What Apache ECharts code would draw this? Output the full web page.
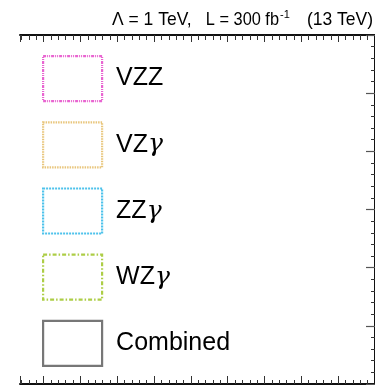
<!DOCTYPE html>
<html><head><meta charset="utf-8">
<script src="https://cdn.jsdelivr.net/npm/echarts@6/dist/echarts.min.js"></script>
<style>html,body{margin:0;padding:0;background:#fff}#c{width:375px;height:385px}</style>
</head><body><div id="c"></div>
<script>
// Legend entries (the plot shows only the legend frame)
const channels = ['VZZ', 'VZγ', 'ZZγ', 'WZγ', 'Combined'];
const channelColors = ['#e43fc6', '#e2b65a', '#22b3e6', '#98c118', '#555555'];
const channelDash = [[3, 1, 1, 1, 1, 1], [1.5, 1], [2, 1], [4, 2, 1.5, 2], 'solid'];
// Header text pieces
const titleParts = ['Λ = 1 TeV,', 'L = 300 fb', '-1', '(13 TeV)'];
// Axis ranges (no labels shown)
const xRange = [0, 9.64];
const yRange = [0, 6];

const chart = echarts.init(document.getElementById('c'), null, {renderer: 'canvas'});
const frameLine = {show: true, lineStyle: {color: '#111', width: 2}};
function xAx(grid, pos, majorLen, minorLen, show) {
  return {
    type: 'value', gridIndex: grid, position: pos, inverse: true,
    min: xRange[0], max: xRange[1], interval: 1, show: show,
    axisLine: frameLine,
    axisTick: {show: true, inside: true, length: majorLen, lineStyle: {color: '#333', width: 1}},
    minorTick: {show: true, splitNumber: 5, length: minorLen, lineStyle: {color: '#333', width: 1}},
    axisLabel: {show: false}, splitLine: {show: false}, minorSplitLine: {show: false}
  };
}
function yAx(grid, pos, majorLen, minorLen) {
  return {
    type: 'value', gridIndex: grid, position: pos,
    min: yRange[0], max: yRange[1], interval: 1,
    axisLine: frameLine,
    axisTick: {show: true, inside: true, length: majorLen, lineStyle: {color: '#555', width: 1.2}},
    minorTick: {show: true, splitNumber: 5, length: minorLen, lineStyle: {color: '#333', width: 1}},
    axisLabel: {show: false}, splitLine: {show: false}, minorSplitLine: {show: false}
  };
}
const titleFont = {fill: '#000', fontSize: 19, fontFamily: 'Liberation Sans', verticalAlign: 'middle'};

const option = {
  animation: false,
  backgroundColor: '#fff',
  grid: [
    {left: 20, right: -34.4, top: 35, bottom: 1},
    {left: 20, right: -2, top: 35, bottom: 1}
  ],
  xAxis: [
    xAx(0, 'bottom', 8, 4, true),
    xAx(0, 'top', 7, 5, true),
    xAx(1, 'bottom', 0, 0, false)
  ],
  yAxis: [
    yAx(0, 'left', 8, 5),
    yAx(1, 'right', 9, 4)
  ],
  legend: {
    orient: 'vertical', left: 42, top: 55, padding: 0,
    itemWidth: 59, itemHeight: 45, itemGap: 19, icon: 'rect',
    selectedMode: false,
    data: channels.map((n, i) => ({
      name: n,
      itemStyle: {
        color: 'rgba(255,255,255,0)', borderColor: channelColors[i],
        borderWidth: 2.2, borderType: channelDash[i]
      }
    })),
    formatter: n => n.replace('γ', '{g|γ}'),
    textStyle: {
      fontSize: 25, color: '#000', fontFamily: 'Liberation Sans', padding: [0, 0, 0, 9],
      rich: {g: {fontSize: 25, color: '#000', fontFamily: 'DejaVu Serif', fontStyle: 'italic'}}
    }
  },
  series: channels.map((n, i) => ({
    name: n, type: 'scatter', xAxisIndex: 0, yAxisIndex: 0,
    itemStyle: {color: channelColors[i]}, data: []
  })),
  graphic: [
    {type: 'text', x: 112, y: 20, scaleX: 0.92, style: Object.assign({text: titleParts[0], align: 'left'}, titleFont)},
    {type: 'text', x: 279, y: 20, scaleX: 0.86, style: Object.assign({text: titleParts[1], align: 'right'}, titleFont)},
    {type: 'text', x: 280, y: 15, style: {text: titleParts[2], fill: '#000', fontSize: 11, fontFamily: 'Liberation Sans', align: 'left', verticalAlign: 'middle'}},
    {type: 'text', x: 373, y: 20, scaleX: 0.92, style: Object.assign({text: titleParts[3], align: 'right'}, titleFont)}
  ]
};
chart.setOption(option);
</script></body></html>
